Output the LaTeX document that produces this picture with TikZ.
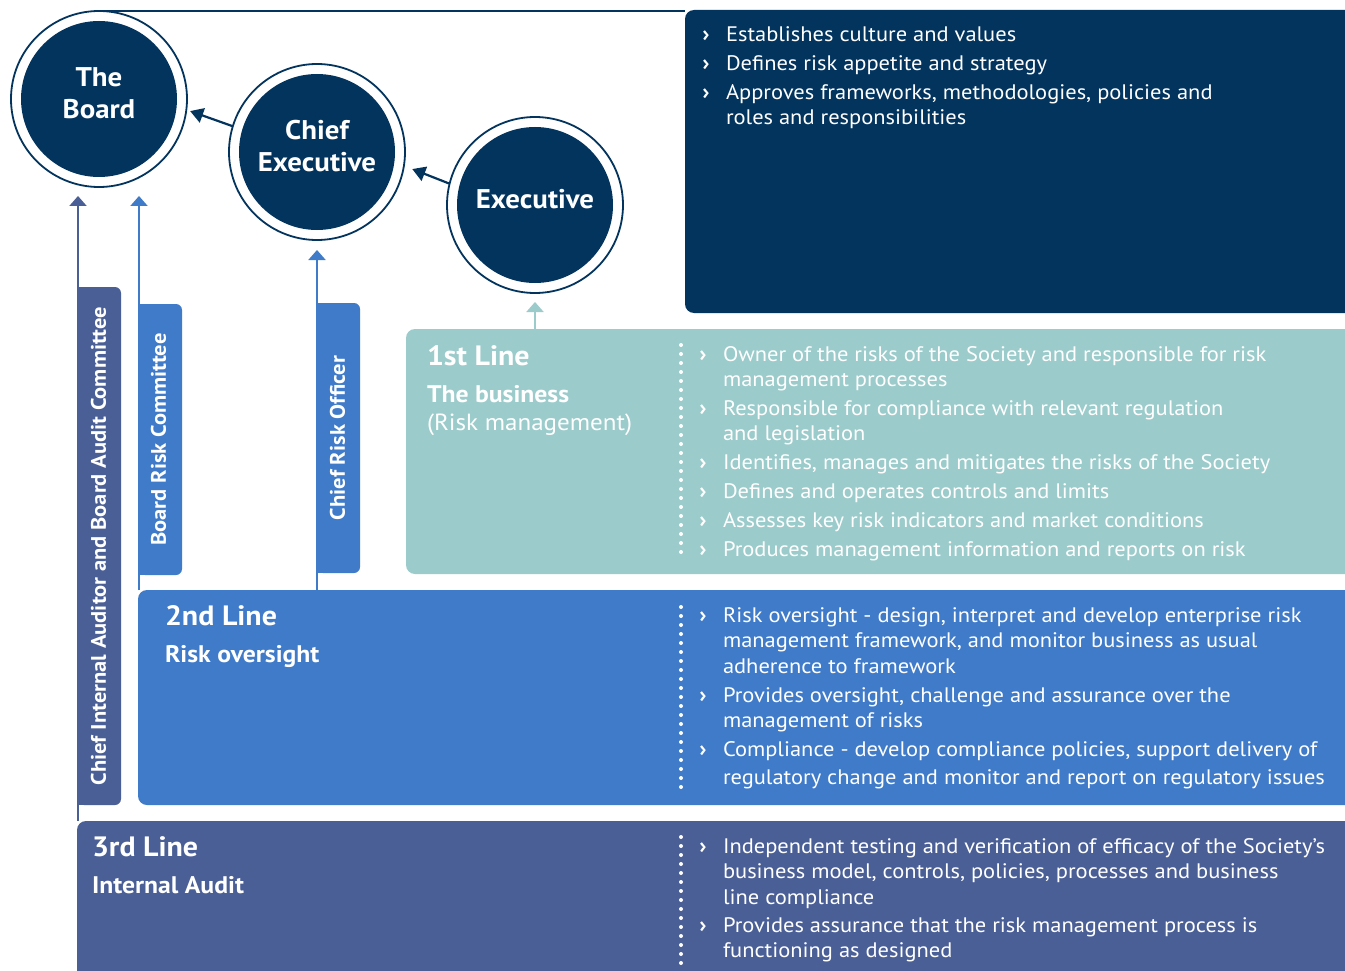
\documentclass[tikz,border=0pt]{standalone}
\usepackage{fontspec}
\setmainfont{PT Sans}[FakeStretch=1.07]
\usetikzlibrary{arrows.meta}
\definecolor{navy}{RGB}{3,52,94}
\definecolor{tealone}{RGB}{156,203,203}
\definecolor{bluetwo}{RGB}{63,123,201}
\definecolor{purpthree}{RGB}{75,95,151}
\newcommand{\mlines}[1]{\begin{tabular}[t]{@{}l@{}}#1\end{tabular}}
\begin{document}
\begin{tikzpicture}[x=1pt,y=-1pt,
  every node/.style={inner sep=0pt, outer sep=0pt},
  ring/.style={circle, draw=navy, line width=1.8pt, fill=white, minimum size=176pt},
  disc/.style={circle, fill=navy, minimum size=156pt},
  ctext/.style={text=white, align=center, font=\fontsize{27}{32}\selectfont\bfseries},
  band/.style={rounded corners=9pt, anchor=north west, minimum width=700pt},
  barbox/.style={rounded corners=6pt, anchor=north west, minimum width=43pt},
  vtext/.style={rotate=90, text=white, font=\fontsize{21}{24}\selectfont\bfseries},
  bultxt/.style={anchor=base west, text=white, font=\fontsize{21}{25.5}\selectfont},
  chev/.style={anchor=base, text=white, font=\fontsize{22}{25}\selectfont\bfseries},
  headA/.style={anchor=base west, text=white, font=\fontsize{28}{30}\selectfont\bfseries},
  headB/.style={anchor=base west, text=white, font=\fontsize{24}{28}\selectfont\bfseries},
  headC/.style={anchor=base west, text=white, font=\fontsize{23.4}{28}\selectfont},
  circarrow/.style={draw=navy, line width=2.2pt, -{Triangle[length=13pt,width=15pt]}},
  uparrow/.style={line width=2pt, -{Triangle[length=10pt,width=17pt]}},
  dotline/.style={draw=white, line width=4pt, line cap=round, dash pattern=on 0pt off 9pt}
]
\useasboundingbox (0,0) rectangle (1345,971);
\fill[white] (0,0) rectangle (1345,971);

% bands
\node[band, fill=navy, minimum height=303pt] (topbox) at (685,10) {};
\node[band, fill=tealone, minimum height=245pt, minimum width=1000pt] (first) at (406,329) {};
\node[band, fill=bluetwo, minimum height=215pt, minimum width=1250pt] (second) at (138,590) {};
\node[band, fill=purpthree, minimum height=200pt, minimum width=1300pt] (third) at (77,821) {};

% circles
\node[ring] (board) at (99,99) {};
\node[disc] at (board.center) {};
\node[ring] (chief) at (317,152) {};
\node[disc] at (chief.center) {};
\node[ring] (exec) at (535,205) {};
\node[disc] at (exec.center) {};
\node[ctext] (boardtxt) at (99,93) {The\\Board};
\node[ctext] (chieftxt) at (317,146) {Chief\\Executive};
\node[ctext] (exectxt) at (535,199) {Executive};

% top line
\draw[navy, line width=1.6pt] (board.north) -- (board.north -| topbox.west);

% arrows between circles
\draw[circarrow, shorten >=4pt] (chief.163) -- (board.-7);
\draw[circarrow, shorten >=9pt] (exec.166) -- (chief.-9);

% vertical bars
\node[barbox, fill=purpthree, minimum height=518pt] (audbar) at (78,287) {};
\fill[purpthree] (audbar.north west) rectangle (audbar.south);
\node[barbox, fill=bluetwo, minimum height=271pt] (brcbar) at (139,304) {};
\fill[bluetwo] (brcbar.north west) rectangle (brcbar.south);
\node[barbox, fill=bluetwo, minimum height=270pt] (crobar) at (317,303) {};
\fill[bluetwo] (crobar.north west) rectangle (crobar.south);
\node[vtext] (audtxt) at ([xshift=-1pt]audbar.center) {Chief Internal Auditor and Board Audit Committee};
\node[vtext] (brctxt) at ([xshift=-2pt]brcbar.center) {Board Risk Committee};
\node[vtext] (crotxt) at ([xshift=-1pt]crobar.center) {Chief Risk Officer};

% up arrows
\draw[uparrow, purpthree, shorten >=9pt] (third.north -| audbar.west) -- (board.south -| audbar.west);
\draw[uparrow, bluetwo, shorten >=9pt] (second.north -| brcbar.west) -- (board.south -| brcbar.west);
\draw[uparrow, bluetwo, shorten >=10pt] (second.north -| crobar.west) -- (chief.south -| crobar.west);
\draw[uparrow, tealone, shorten >=9pt] (first.north -| exec.south) -- (exec.south);

% dotted separators
\draw[dotline] (681,345) -- (681,560);
\draw[dotline] (681,607) -- (681,790);
\draw[dotline] (681,837) -- (681,968);

% top box bullets
\node[chev] (c01) at (706,42) {›};
\node[bultxt] (t01) at (726,42) {Establishes culture and values};
\node[chev] (c02) at (706,71) {›};
\node[bultxt] (t02) at (726,71) {Defines risk appetite and strategy};
\node[chev] (c03) at (706,99.5) {›};
\node[bultxt] (t03) at (726,99.5) {\mlines{Approves frameworks, methodologies, policies and\\roles and responsibilities}};

% first line
\node[headA] (h1a) at (427,365) {1st Line};
\node[headB] (h1b) at (427,402) {The business};
\node[headC] (h1c) at (427,430) {(Risk management)};
\node[chev] (c11) at (703,361) {›};
\node[bultxt] (t11) at (723,361) {\mlines{Owner of the risks of the Society and responsible for risk\\management processes}};
\node[chev] (c12) at (703,415) {›};
\node[bultxt] (t12) at (723,415) {\mlines{Responsible for compliance with relevant regulation\\and legislation}};
\node[chev] (c13) at (703,469) {›};
\node[bultxt] (t13) at (723,469) {Identifies, manages and mitigates the risks of the Society};
\node[chev] (c14) at (703,498) {›};
\node[bultxt] (t14) at (723,498) {Defines and operates controls and limits};
\node[chev] (c15) at (703,527) {›};
\node[bultxt] (t15) at (723,527) {Assesses key risk indicators and market conditions};
\node[chev] (c16) at (703,556) {›};
\node[bultxt] (t16) at (723,556) {Produces management information and reports on risk};

% second line
\node[headA] (h2a) at (165,625) {2nd Line};
\node[headB] (h2b) at (165,662) {Risk oversight};
\node[chev] (c21) at (703,622) {›};
\node[bultxt] (t21) at (723,622) {\mlines{Risk oversight - design, interpret and develop enterprise risk\\management framework, and monitor business as usual\\adherence to framework}};
\node[chev] (c22) at (703,702) {›};
\node[bultxt] (t22) at (723,702) {\mlines{Provides oversight, challenge and assurance over the\\management of risks}};
\node[chev] (c23) at (703,756) {›};
\node[bultxt] (t23) at (723,756) {\mlines{Compliance - develop compliance policies, support delivery of\\[3pt]regulatory change and monitor and report on regulatory issues}};

% third line
\node[headA] (h3a) at (92,856) {3rd Line};
\node[headB] (h3b) at (92,893) {Internal Audit};
\node[chev] (c31) at (703,853) {›};
\node[bultxt] (t31) at (723,853) {\mlines{Independent testing and verification of efficacy of the Society’s\\business model, controls, policies, processes and business\\line compliance}};
\node[chev] (c32) at (703,932) {›};
\node[bultxt] (t32) at (723,932) {\mlines{Provides assurance that the risk management process is\\functioning as designed}};
\end{tikzpicture}
\end{document}
